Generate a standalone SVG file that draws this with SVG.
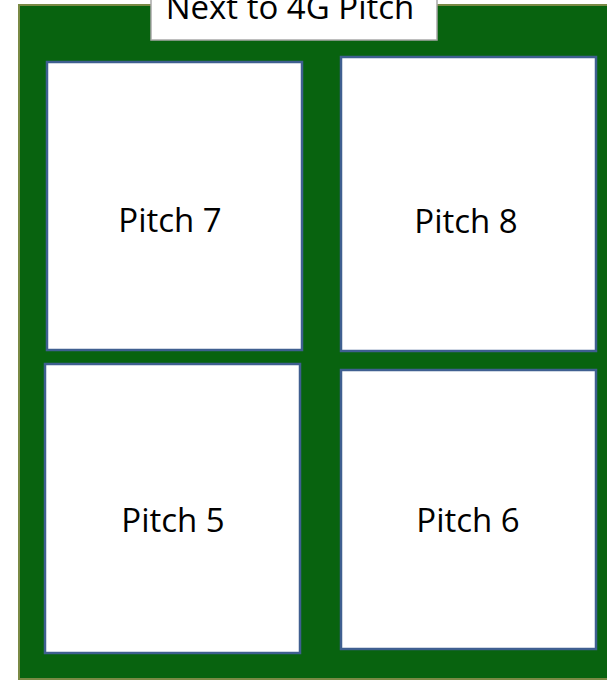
<svg xmlns="http://www.w3.org/2000/svg" width="607" height="680" viewBox="0 0 607 680">
  <style>
    .pitch { fill: #ffffff; stroke: #3f5f90; stroke-width: 2.5; }
    .lbl { font-family: "Open Sans", "Liberation Sans", sans-serif; font-size: 33px; fill: #000000; text-anchor: middle; }
  </style>
  <rect width="607" height="680" fill="#ffffff"/>
  <g id="field">
    <rect x="19" y="5" width="600" height="674" fill="#08630f" stroke="#7a8a45" stroke-width="2"/>
  </g>
  <g id="title">
    <rect x="151" y="-5" width="286" height="45" fill="#ffffff" stroke="#a8a8a8" stroke-width="1.5"/>
    <text class="lbl" x="290" y="18.5">Next to 4G Pitch</text>
  </g>
  <g id="pitch7">
    <rect class="pitch" x="47" y="62" width="255" height="288"/>
    <text class="lbl" x="170" y="232">Pitch 7</text>
  </g>
  <g id="pitch8">
    <rect class="pitch" x="341" y="57" width="255" height="294"/>
    <text class="lbl" x="466" y="233">Pitch 8</text>
  </g>
  <g id="pitch5">
    <rect class="pitch" x="45" y="364" width="255" height="289"/>
    <text class="lbl" x="173" y="532">Pitch 5</text>
  </g>
  <g id="pitch6">
    <rect class="pitch" x="341" y="370" width="255" height="279"/>
    <text class="lbl" x="468" y="532">Pitch 6</text>
  </g>
  <g id="connectors"></g>
</svg>
